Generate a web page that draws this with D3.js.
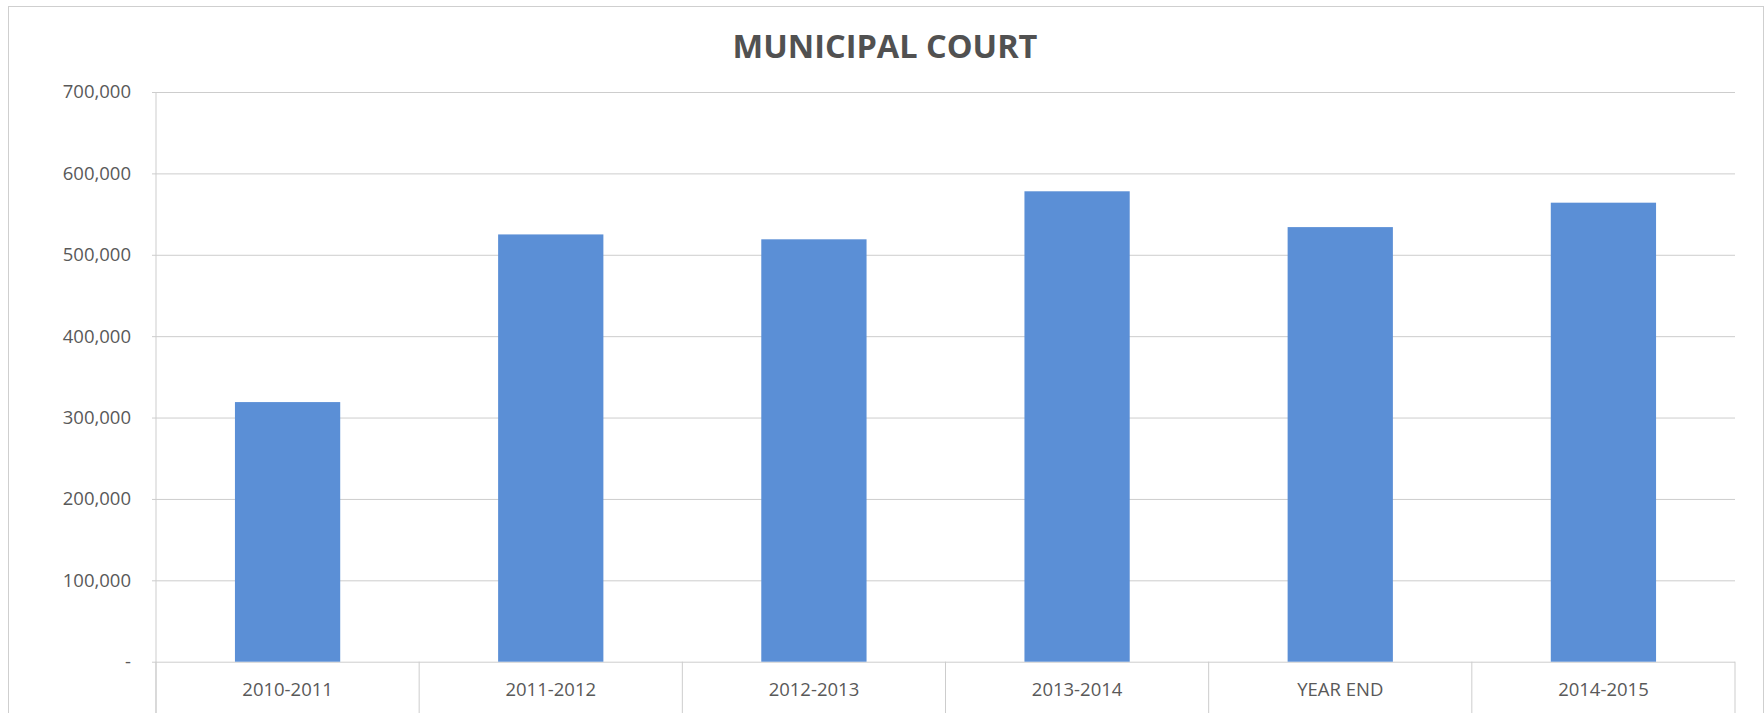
<!DOCTYPE html>
<html>
<head>
<meta charset="utf-8">
<script src="https://cdn.jsdelivr.net/npm/d3@7"></script>
<style>
  html, body { margin: 0; padding: 0; background: #fff; }
  svg { display: block; }
  text { font-family: "Open Sans", "Noto Sans", sans-serif; }
</style>
</head>
<body>
<svg id="chart" width="1764" height="713"></svg>
<script>
// Municipal Court revenue by fiscal period
const categories = ["2010-2011", "2011-2012", "2012-2013", "2013-2014", "YEAR END", "2014-2015"];
const values = [319000, 525000, 519000, 578000, 534000, 564000];
const yTickValues = [0, 100000, 200000, 300000, 400000, 500000, 600000, 700000];
const titleText = "MUNICIPAL COURT";

const W = 1764, H = 713;
const plot = { left: 156, right: 1735, top: 92, bottom: 661.7 };

const svg = d3.select("#chart");

// outer chart frame (bottom edge runs past the page)
svg.append("rect")
  .attr("x", 8.5).attr("y", 6.5)
  .attr("width", 1755).attr("height", 800)
  .attr("fill", "#fff")
  .attr("stroke", "#cfcfcf")
  .attr("stroke-width", 1);

const x = d3.scaleBand()
  .domain(categories)
  .range([plot.left, plot.right])
  .paddingInner(0.6)
  .paddingOuter(0.3);

const y = d3.scaleLinear()
  .domain([0, 700000])
  .range([plot.bottom, plot.top]);

const fmt = d3.format(",.0f");
const textColor = "#595959";
const gridColor = "#cdcdcd";

// value axis with horizontal gridlines
const yAxis = svg.append("g")
  .attr("transform", `translate(${plot.left},0)`)
  .call(d3.axisLeft(y)
    .tickValues(yTickValues)
    .tickFormat(d => d === 0 ? "-" : fmt(d))
    .tickSize(-(plot.right - plot.left))
    .tickPadding(25));
yAxis.select(".domain").remove();
yAxis.selectAll(".tick line")
  .attr("x1", -4)
  .attr("stroke", gridColor)
  .attr("stroke-width", 1);
yAxis.selectAll(".tick text")
  .attr("fill", textColor)
  .style("font-size", "18.5px");

// vertical value-axis line, continuing down as the first category divider
svg.append("line")
  .attr("x1", plot.left).attr("x2", plot.left)
  .attr("y1", plot.top).attr("y2", H)
  .attr("stroke", gridColor);

// category dividers below the baseline
const gap = (x.step() - x.bandwidth()) / 2;
const boundaries = categories.map(c => x(c) - gap).concat([plot.right]);
svg.append("g").selectAll("line")
  .data(boundaries)
  .join("line")
  .attr("x1", d => d).attr("x2", d => d)
  .attr("y1", plot.bottom).attr("y2", H)
  .attr("stroke", gridColor);

// bars
svg.append("g").selectAll("rect")
  .data(values)
  .join("rect")
  .attr("x", (d, i) => x(categories[i]))
  .attr("y", d => y(d))
  .attr("width", x.bandwidth())
  .attr("height", d => y(0) - y(d))
  .attr("fill", "#5b8fd6");

// category labels
const xAxis = svg.append("g")
  .attr("transform", `translate(0,${plot.bottom})`)
  .call(d3.axisBottom(x).tickSize(0).tickPadding(21));
xAxis.select(".domain").remove();
xAxis.selectAll(".tick text")
  .attr("fill", textColor)
  .style("font-size", "18.5px");

// title
svg.append("text")
  .attr("x", 885)
  .attr("y", 58)
  .attr("text-anchor", "middle")
  .attr("fill", "#515151")
  .style("font-size", "32.5px")
  .style("font-weight", "bold")
  .text(titleText);
</script>
</body>
</html>
